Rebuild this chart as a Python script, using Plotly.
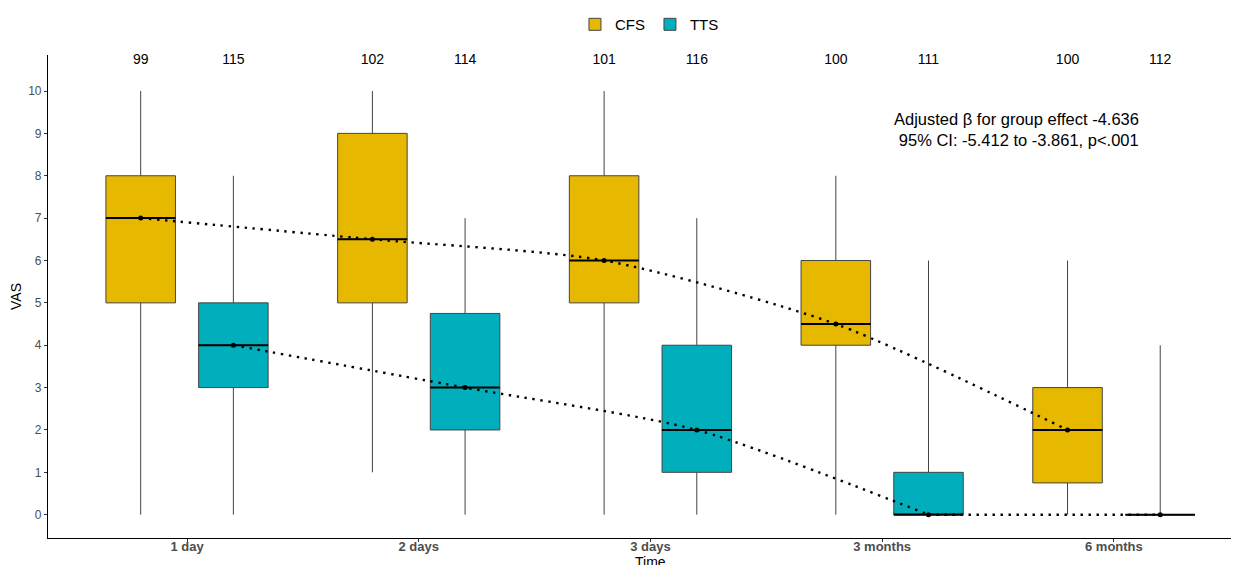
import plotly.graph_objects as go

times = ["1 day", "2 days", "3 days", "3 months", "6 months"]
groups = ["CFS", "TTS"]
colors = {"CFS": "#E7B800", "TTS": "#00AFBB"}

# box statistics
cfs_low = [0, 1, 0, 0, 0]
cfs_q1 = [5, 5, 5, 4, 0.75]
cfs_med = [7, 6.5, 6, 4.5, 2]
cfs_q3 = [8, 9, 8, 6, 3]
cfs_high = [10, 10, 10, 8, 6]
cfs_n = [99, 102, 101, 100, 100]

tts_low = [0, 0, 0, 0, 0]
tts_q1 = [3, 2, 1, 0, 0]
tts_med = [4, 3, 2, 0, 0]
tts_q3 = [5, 4.75, 4, 1, 0]
tts_high = [8, 7, 7, 6, 4]
tts_n = [115, 114, 116, 111, 112]

stats = {
    "CFS": dict(low=cfs_low, q1=cfs_q1, med=cfs_med, q3=cfs_q3, high=cfs_high, n=cfs_n, off=-0.2),
    "TTS": dict(low=tts_low, q1=tts_q1, med=tts_med, q3=tts_q3, high=tts_high, n=tts_n, off=0.2),
}
box_w = 0.3
label_y = 10.72

dot_line = dict(color="black", width=2.4, dash="2.4px,5.6px")

fig = go.Figure()
for g in groups:
    s = stats[g]
    xs = [i + 1 + s["off"] for i in range(len(times))]
    fig.add_trace(go.Box(
        name=g, x=xs, q1=s["q1"], median=s["med"], q3=s["q3"],
        lowerfence=s["low"], upperfence=s["high"],
        width=box_w, whiskerwidth=0, fillcolor=colors[g],
        line=dict(color="#444444", width=1), boxpoints=False,
        hoverinfo="skip",
    ))
for g in groups:
    s = stats[g]
    xs = [i + 1 + s["off"] for i in range(len(times))]
    meds = s["med"]
    # thicker median segments
    mx, my = [], []
    for x, m in zip(xs, meds):
        mx += [x - box_w / 2, x + box_w / 2, None]
        my += [m, m, None]
    fig.add_trace(go.Scatter(x=mx, y=my, mode="lines", line=dict(color="black", width=2),
                             showlegend=False, hoverinfo="skip"))
    # smoothed dotted trend through medians; a flat tail stays straight
    k = len(meds)
    while k > 2 and meds[k - 1] == meds[k - 2]:
        k -= 1
    fig.add_trace(go.Scatter(x=xs[:k], y=meds[:k], mode="lines",
                             line=dict(shape="spline", smoothing=0.7, **dot_line),
                             showlegend=False, hoverinfo="skip"))
    if k < len(meds):
        fig.add_trace(go.Scatter(x=xs[k - 1:], y=meds[k - 1:], mode="lines",
                                 line=dot_line, showlegend=False, hoverinfo="skip"))
    fig.add_trace(go.Scatter(x=xs, y=meds, mode="markers",
                             marker=dict(color="black", size=5),
                             showlegend=False, hoverinfo="skip"))
    # counts
    fig.add_trace(go.Scatter(x=xs, y=[label_y] * len(xs), mode="text",
                             text=[str(v) for v in s["n"]], cliponaxis=False,
                             textfont=dict(family="Arial, Liberation Sans, sans-serif", size=14, color="black"),
                             showlegend=False, hoverinfo="skip"))

fig.add_annotation(x=4.58, y=9.08, xref="x", yref="y", showarrow=False,
                   text="Adjusted β for group effect -4.636<br> 95% CI: -5.412 to -3.861, p<.001",
                   font=dict(family="Arial, Liberation Sans, sans-serif", size=16.5, color="black"),
                   align="center")

# x-axis title placed as an annotation just below the tick labels
fig.add_annotation(x=3.0, y=0, xref="x", yref="paper", yanchor="top", yshift=-15,
                   showarrow=False, text="Time", borderpad=0,
                   font=dict(family="Arial, Liberation Sans, sans-serif", size=14, color="black"))

# page body has an 8px margin, so the figure is sized to fit the window
fig.update_layout(
    width=1231, height=557,
    margin=dict(l=40, r=0, t=39, b=27),
    plot_bgcolor="white", paper_bgcolor="white",
    showlegend=True,
    legend=dict(orientation="h", x=0.505, xanchor="center", y=1.063, yanchor="middle",
                font=dict(family="Arial, Liberation Sans, sans-serif", size=15, color="black"),
                itemwidth=30, tracegroupgap=0),
    font=dict(family="Arial, Liberation Sans, sans-serif"),
)
fig.update_xaxes(
    range=[0.4, 5.54], tickmode="array", tickvals=[1, 2, 3, 4, 5],
    ticktext=["<b>" + t + "</b>" for t in times],
    tickfont=dict(family="Liberation Sans Narrow, Arial Narrow, sans-serif", size=13, color="#4d4d4d"),
    showline=True, linecolor="black", linewidth=1.2, ticks="outside", ticklen=3, tickcolor="#333333",
    ticklabelstandoff=-7,
    showgrid=False, zeroline=False,
    automargin=False,
)
fig.update_yaxes(
    range=[-0.55, 10.85], tickmode="array", tickvals=list(range(11)),
    tickfont=dict(size=12, color="#4d4d4d"),
    showline=True, linecolor="black", linewidth=1.2, ticks="outside", ticklen=3, tickcolor="#333333",
    showgrid=False, zeroline=False,
    title=dict(text="VAS", font=dict(size=14, color="black"), standoff=6),
    automargin=False,
)

fig.write_html("out.html")
